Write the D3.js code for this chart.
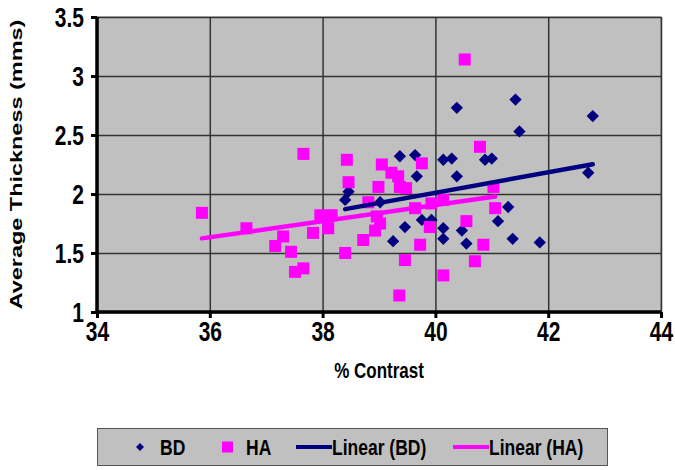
<!DOCTYPE html>
<html>
<head>
<meta charset="utf-8">
<script src="https://cdn.jsdelivr.net/npm/d3@7"></script>
<style>
  body { margin: 0; background: #fff; }
  text { font-family: "Liberation Sans", Arial, sans-serif; font-weight: bold; }
</style>
</head>
<body>
<div id="chart"></div>
<script>
// % Contrast vs Average Thickness, two groups
var bdX = [38.40, 38.46, 39.02, 39.25, 39.37, 39.46, 39.64, 39.67, 39.76, 39.93, 40.14, 40.29, 40.14, 40.14,
           40.38, 40.38, 40.47, 40.55, 40.88, 41.00, 41.11, 41.29, 41.37, 41.42, 41.49, 41.85, 42.71, 42.79];
var bdY = [1.95, 2.02, 1.93, 1.60, 2.32, 1.72, 2.33, 2.15, 1.78, 1.78, 2.29, 2.30, 1.71, 1.62,
           2.15, 2.73, 1.69, 1.58, 2.29, 2.30, 1.77, 1.89, 1.62, 2.80, 2.53, 1.59, 2.18, 2.66];
var haX = [35.86, 36.65, 37.16, 37.30, 37.44, 37.51, 37.66, 37.66, 37.83, 37.96, 38.10, 38.16, 38.40, 38.43,
           38.46, 38.72, 38.81, 38.93, 38.96, 38.99, 39.02, 39.05, 39.22, 39.34, 39.36, 39.37, 39.46, 39.48,
           39.64, 39.73, 39.76, 39.90, 39.93, 40.14, 40.14, 40.52, 40.55, 40.70, 40.79, 40.85, 41.03, 41.06];
var haY = [1.84, 1.71, 1.56, 1.64, 1.51, 1.34, 1.37, 2.34, 1.67, 1.82, 1.71, 1.82, 1.50, 2.29,
           2.10, 1.61, 1.93, 1.69, 1.81, 2.06, 1.75, 2.25, 2.18, 2.15, 1.14, 2.06, 1.44, 2.05,
           1.88, 1.57, 2.26, 1.72, 1.92, 1.95, 1.31, 3.14, 1.77, 1.43, 2.40, 1.57, 2.06, 1.88];
var xTicks = [34, 36, 38, 40, 42, 44];
var yTicks = [1, 1.5, 2, 2.5, 3, 3.5];
var legendNames = ["BD", "HA", "Linear (BD)", "Linear (HA)"];

var navy = "#000080", pink = "#FF00FF", plotGray = "#C0C0C0";
var stretch = 1.3; // text in the original is drawn tall and narrow

var W = 675, H = 470;
var m = {l: 97, r: 14, t: 17, b: 158};
var pw = W - m.l - m.r, ph = H - m.t - m.b;

var svg = d3.select("#chart").append("svg").attr("width", W).attr("height", H);

var x = d3.scaleLinear().domain([34, 44]).range([m.l, m.l + pw]);
var y = d3.scaleLinear().domain([1, 3.5]).range([m.t + ph, m.t]);

// plot background
svg.append("rect")
  .attr("x", m.l).attr("y", m.t).attr("width", pw).attr("height", ph)
  .attr("fill", plotGray).attr("stroke", "#808080").attr("stroke-width", 1);

// gridlines
var gx = svg.append("g").attr("transform", "translate(0," + m.t + ")")
  .call(d3.axisBottom(x).tickValues(xTicks).tickSize(ph).tickFormat(""));
gx.select(".domain").remove();
gx.selectAll("line").attr("stroke", "#333").attr("stroke-width", 1.5);

var gy = svg.append("g").attr("transform", "translate(" + m.l + ",0)")
  .call(d3.axisRight(y).tickValues(yTicks).tickSize(pw).tickFormat(""));
gy.select(".domain").remove();
gy.selectAll("line").attr("stroke", "#333").attr("stroke-width", 1.5);

// points
function pairs(xs, ys) { return xs.map(function(v, i){ return [v, ys[i]]; }); }
var bd = pairs(bdX, bdY), ha = pairs(haX, haY);

svg.append("g").selectAll("path").data(bd).enter().append("path")
  .attr("d", d3.symbol().type(d3.symbolSquare).size(76))
  .attr("transform", function(d){ return "translate(" + x(d[0]) + "," + y(d[1]) + ") rotate(45)"; })
  .attr("fill", navy);

svg.append("g").selectAll("rect").data(ha).enter().append("rect")
  .attr("x", function(d){ return x(d[0]) - 6; })
  .attr("y", function(d){ return y(d[1]) - 6; })
  .attr("width", 12).attr("height", 12)
  .attr("fill", pink);

// linear trendlines
function fit(pts) {
  var mx = d3.mean(pts, function(d){ return d[0]; }), my = d3.mean(pts, function(d){ return d[1]; });
  var sxy = d3.sum(pts, function(d){ return (d[0] - mx) * (d[1] - my); });
  var sxx = d3.sum(pts, function(d){ return (d[0] - mx) * (d[0] - mx); });
  var k = sxy / sxx, b = my - k * mx;
  var ext = d3.extent(pts, function(d){ return d[0]; });
  return ext.map(function(v){ return [v, b + k * v]; });
}
var line = d3.line().x(function(d){ return x(d[0]); }).y(function(d){ return y(d[1]); });
svg.append("path").datum(fit(bd)).attr("d", line)
  .attr("stroke", navy).attr("stroke-width", 4.5).attr("fill", "none").attr("stroke-linecap", "round");
svg.append("path").datum(fit(ha)).attr("d", line)
  .attr("stroke", pink).attr("stroke-width", 4.5).attr("fill", "none").attr("stroke-linecap", "round");

// axes
var ax = svg.append("g").attr("transform", "translate(0," + (m.t + ph) + ")")
  .call(d3.axisBottom(x).tickValues(xTicks).tickSize(6).tickFormat(d3.format("d")));
ax.select(".domain").attr("stroke", "#000").attr("stroke-width", 3.5).attr("d", "M" + m.l + ",0H" + (m.l + pw));
ax.selectAll("line").attr("stroke", "#000").attr("stroke-width", 3);
ax.selectAll("text").attr("font-size", 21).attr("fill", "#000")
  .attr("y", 0).attr("dy", 22).attr("transform", "scale(1," + stretch + ")");

var ay = svg.append("g").attr("transform", "translate(" + m.l + ",0)")
  .call(d3.axisLeft(y).tickValues(yTicks).tickSize(6).tickFormat(d3.format("")));
ay.select(".domain").attr("stroke", "#000").attr("stroke-width", 3.5).attr("d", "M0," + m.t + "V" + (m.t + ph));
ay.selectAll("line").attr("stroke", "#000").attr("stroke-width", 3);
ay.selectAll("text").attr("font-size", 21).attr("fill", "#000")
  .attr("x", -13).attr("dy", "0.36em").attr("transform", "scale(1," + stretch + ")");

// titles
svg.append("text").attr("transform", "translate(" + x(39) + ",378) scale(1," + stretch + ")")
  .attr("text-anchor", "middle").attr("font-size", 17).text("% Contrast");
svg.append("text").attr("transform", "translate(22," + (m.t + ph / 2) + ") rotate(-90) scale(1.38,1)")
  .attr("text-anchor", "middle").attr("font-size", 17).text("Average Thickness (mms)");

// legend
var lg = svg.append("g");
lg.append("rect").attr("x", 97.5).attr("y", 428.5).attr("width", 510).attr("height", 37)
  .attr("fill", plotGray).attr("stroke", "#555").attr("stroke-width", 1);
var ly = 447;
lg.append("path").attr("d", d3.symbol().type(d3.symbolSquare).size(32))
  .attr("transform", "translate(140," + ly + ") rotate(45)").attr("fill", navy);
lg.append("rect").attr("x", 222).attr("y", ly - 5.5).attr("width", 11).attr("height", 11).attr("fill", pink);
lg.append("line").attr("x1", 296).attr("x2", 332).attr("y1", ly).attr("y2", ly)
  .attr("stroke", navy).attr("stroke-width", 4);
lg.append("line").attr("x1", 453).attr("x2", 489).attr("y1", ly).attr("y2", ly)
  .attr("stroke", pink).attr("stroke-width", 4);
var lx = [160, 246, 332, 489];
lg.selectAll("text.lt").data(legendNames).enter().append("text").attr("class", "lt")
  .attr("transform", function(d, i){ return "translate(" + lx[i] + "," + (ly + 8) + ") scale(1," + stretch + ")"; })
  .attr("font-size", 17.5).text(function(d){ return d; });
</script>
</body>
</html>
